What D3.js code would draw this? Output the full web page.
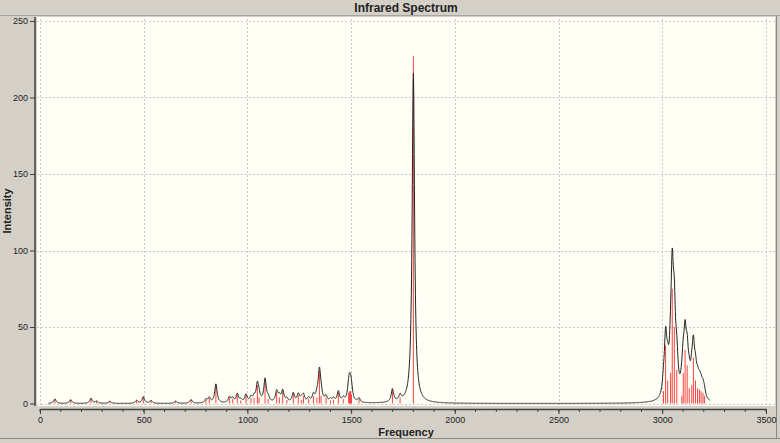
<!DOCTYPE html>
<html>
<head>
<meta charset="utf-8">
<script src="https://cdn.jsdelivr.net/npm/d3@7"></script>
<style>
  html, body { margin: 0; padding: 0; background: #d4d0c8; }
  svg { display: block; }
  text { font-family: "Liberation Sans", Arial, sans-serif; fill: #222; }
</style>
</head>
<body>
<div id="chart"></div>
<script>
// stick spectrum (cm-1, intensity)
var freqs = [72, 148, 246, 273, 337, 466, 498, 535, 654, 728,
             800, 816, 848, 913, 929, 951, 968, 993, 1017, 1032,
             1048, 1056, 1085, 1100, 1141, 1154, 1170, 1190, 1221, 1245,
             1260, 1270, 1295, 1318, 1335, 1347, 1355, 1379, 1400, 1415,
             1438, 1462, 1488, 1492, 1497, 1502, 1538, 1699, 1736, 1800,
             3006, 3016, 3026, 3040, 3048, 3058, 3070, 3094, 3101, 3110,
             3120, 3130, 3142, 3150, 3160, 3170, 3179, 3187, 3196, 3203];
var intens = [3, 2.5, 3.5, 1.5, 1.5, 2, 4.5, 2, 1.5, 2.5,
              2.5, 3.5, 13, 4, 3, 6, 2, 5.5, 3.5, 3.5,
              12, 4, 16, 3, 7.5, 4, 8, 2.5, 6.5, 5.5,
              2.5, 5, 3, 5, 4, 21, 5, 4, 2, 2.5,
              7.5, 3, 7, 8, 8, 6, 3, 9, 4, 227,
              8, 38, 15, 20, 75, 50, 22, 5, 20, 35,
              25, 10, 12, 30, 15, 10, 9, 8, 7, 5];

var xTicks = [0, 500, 1000, 1500, 2000, 2500, 3000, 3500];
var yTicks = [0, 50, 100, 150, 200, 250];

var width = 780, height = 443,
    plot = {left: 37, right: 775, top: 17, bottom: 406},
    halfWidth = 7, curveScale = 0.95;

var x = d3.scaleLinear().domain([0, 3500]).range([40, 766]);
var y = d3.scaleLinear().domain([0, 250]).range([403.5, 21]);

// broadened curve = lorentzian sum over the sticks, as the program draws it
var grid = d3.range(40, 3231, 1);
var curve = grid.map(function(f) {
  var s = 0;
  for (var i = 0; i < freqs.length; i++) {
    var d = f - freqs[i];
    s += intens[i] * halfWidth * halfWidth / (d * d + halfWidth * halfWidth);
  }
  return [f, s * curveScale];
});

var svg = d3.select('#chart').append('svg')
  .attr('width', width)
  .attr('height', height);

// window chrome
svg.append('rect').attr('x', 0).attr('y', 0).attr('width', width).attr('height', height).attr('fill', '#d4d0c8');
svg.append('line').attr('x1', 0).attr('x2', width).attr('y1', 15.5).attr('y2', 15.5).attr('stroke', '#a7a49d');
svg.append('line').attr('x1', 776.5).attr('x2', 776.5).attr('y1', 16).attr('y2', 438).attr('stroke', '#8c8984');
svg.append('line').attr('x1', 0).attr('x2', width).attr('y1', 438.5).attr('y2', 438.5).attr('stroke', '#8c8984');

svg.append('text')
  .attr('x', 406).attr('y', 12)
  .attr('text-anchor', 'middle')
  .attr('font-size', '12px').attr('font-weight', 'bold')
  .text('Infrared Spectrum');

svg.append('rect')
  .attr('x', plot.left).attr('y', plot.top)
  .attr('width', plot.right - plot.left).attr('height', plot.bottom - plot.top)
  .attr('fill', '#fffff6');

// grid
svg.append('g').selectAll('line').data(xTicks).join('line')
  .attr('x1', function(d) { return Math.round(x(d)) + 0.5; })
  .attr('x2', function(d) { return Math.round(x(d)) + 0.5; })
  .attr('y1', plot.top + 2).attr('y2', plot.bottom)
  .attr('stroke', '#c9c9c9').attr('stroke-dasharray', '2,2');
svg.append('g').selectAll('line').data(yTicks).join('line')
  .attr('x1', plot.left).attr('x2', plot.right)
  .attr('y1', function(d) { return Math.round(y(d)) + 0.5; })
  .attr('y2', function(d) { return Math.round(y(d)) + 0.5; })
  .attr('stroke', '#c9c9c9').attr('stroke-dasharray', '2,2');

// sticks
svg.append('g').selectAll('line').data(freqs).join('line')
  .attr('x1', function(d) { return x(d); })
  .attr('x2', function(d) { return x(d); })
  .attr('y1', y(0))
  .attr('y2', function(d, i) { return y(intens[i]); })
  .attr('stroke', '#ff2020').attr('stroke-width', 1).attr('stroke-opacity', 0.85);

// curve
svg.append('path')
  .datum(curve)
  .attr('fill', 'none')
  .attr('stroke', '#222')
  .attr('stroke-width', 1)
  .attr('d', d3.line()
    .x(function(d) { return x(d[0]); })
    .y(function(d) { return y(d[1]); }));

// axes
var xAxis = d3.axisBottom(x).tickValues(xTicks).tickFormat(d3.format('d'))
  .tickSize(5).tickPadding(3).tickSizeOuter(0);
var gx = svg.append('g').attr('transform', 'translate(0,409)').call(xAxis);
gx.append('g').selectAll('line').data(d3.range(0, 3501, 100)).join('line')
  .attr('x1', function(d) { return x(d); }).attr('x2', function(d) { return x(d); })
  .attr('y1', 0).attr('y2', 3).attr('stroke', '#404040');

var yAxis = d3.axisLeft(y).tickValues(yTicks).tickFormat(d3.format('d'))
  .tickSize(5).tickPadding(2).tickSizeOuter(0);
var gy = svg.append('g').attr('transform', 'translate(35,0)').call(yAxis);

[gx, gy].forEach(function(g) {
  g.select('.domain').attr('stroke', '#404040').attr('stroke-width', 1.5);
  g.selectAll('.tick line').attr('stroke', '#404040');
  g.selectAll('.tick text').attr('font-size', '9px').attr('fill', '#222')
    .attr('font-family', '"Liberation Sans", Arial, sans-serif');
});
gy.select('.domain').attr('d', 'M0,' + plot.top + 'V' + plot.bottom);

svg.append('text')
  .attr('x', 406).attr('y', 436)
  .attr('text-anchor', 'middle')
  .attr('font-size', '11px').attr('font-weight', 'bold')
  .text('Frequency');

svg.append('text')
  .attr('transform', 'translate(11,211) rotate(-90)')
  .attr('text-anchor', 'middle')
  .attr('font-size', '11px').attr('font-weight', 'bold')
  .text('Intensity');
</script>
</body>
</html>
